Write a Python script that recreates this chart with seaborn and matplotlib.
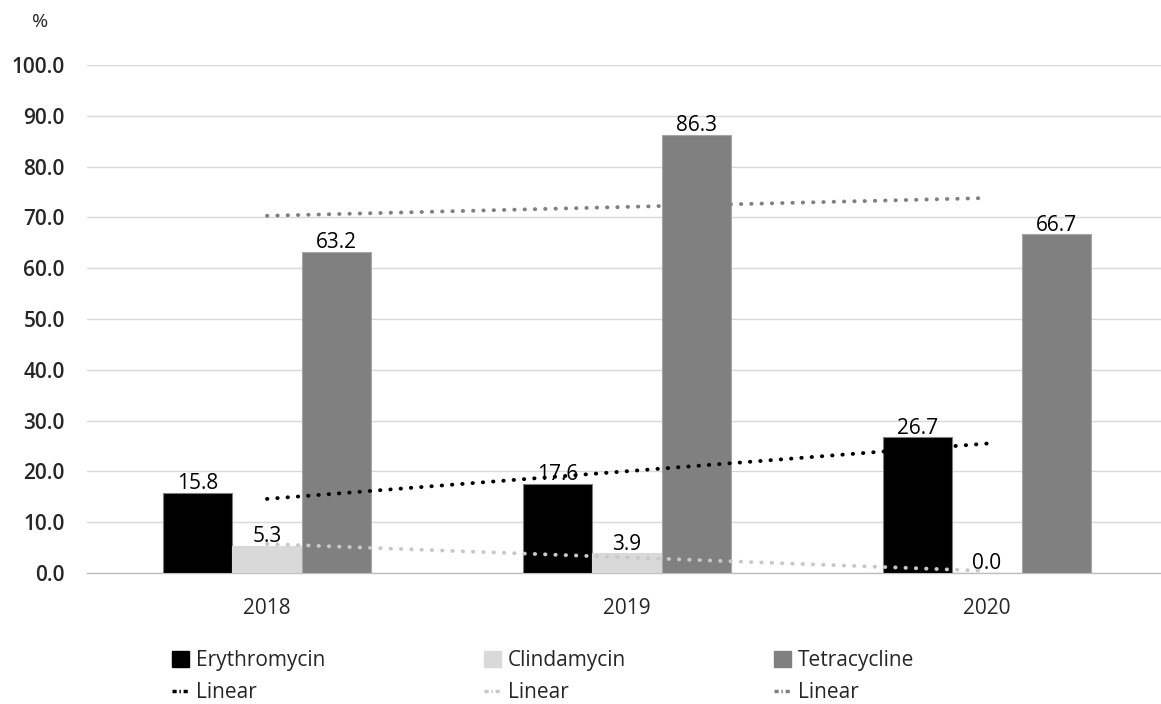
import numpy as np
import pandas as pd
import matplotlib
matplotlib.use("Agg")
import matplotlib.pyplot as plt
from matplotlib.patches import Patch
from matplotlib.lines import Line2D
import seaborn as sns

years = ["2018", "2019", "2020"]
erythromycin = [15.8, 17.6, 26.7]
clindamycin = [5.3, 3.9, 0.0]
tetracycline = [63.2, 86.3, 66.7]
drugs = ["Erythromycin", "Clindamycin", "Tetracycline"]
yticks = [0, 10, 20, 30, 40, 50, 60, 70, 80, 90, 100]

colors = {"Erythromycin": "#000000", "Clindamycin": "#d9d9d9", "Tetracycline": "#808080"}
trend_colors = {"Erythromycin": "#000000", "Clindamycin": "#c8c8c8", "Tetracycline": "#808080"}

sns.set_theme(style="white")
plt.rcParams['font.family'] = ['Open Sans', 'DejaVu Sans']
FS = 15

df = pd.DataFrame({
    "year": years * 3,
    "drug": [d for d in drugs for _ in years],
    "value": erythromycin + clindamycin + tetracycline,
})

fig = plt.figure(figsize=(11.61, 7.04), dpi=100)
ax = fig.add_axes([87 / 1161, 131 / 704, 1 - 87 / 1161, 508 / 704])

sns.barplot(data=df, x="year", y="value", hue="drug", hue_order=drugs,
            order=years, palette=colors, width=0.578, saturation=1,
            ax=ax, legend=False, errorbar=None, zorder=2)

edge = {"Erythromycin": "#7f7f7f", "Clindamycin": "#d9d9d9", "Tetracycline": "#a6a6a6"}
for cont, d in zip(ax.containers, drugs):
    for p in cont:
        p.set_edgecolor(edge[d])
        p.set_linewidth(0.8)
    ax.bar_label(cont, fmt="%.1f", padding=-1, fontsize=FS, color="#000000")

# linear trend lines (least squares fit of each series)
xs = np.arange(len(years))
series = {"Erythromycin": erythromycin, "Clindamycin": clindamycin, "Tetracycline": tetracycline}
for d in drugs:
    m, b = np.polyfit(xs, series[d], 1)
    ax.plot(xs, m * xs + b, color=trend_colors[d], lw=2.8,
            linestyle=(0, (0.1, 2.55)), dash_capstyle="round", zorder=4)

ax.set_xlim(-0.5, (1161 - 267) / 360)
ax.set_ylim(0, 100)
ax.set_yticks(yticks)
ax.set_yticklabels([f"{v:.1f}" for v in yticks], fontsize=FS, fontweight="semibold")
ax.tick_params(axis="y", length=0, pad=16)
ax.tick_params(axis="x", length=0, pad=18, labelsize=FS)
ax.set_xlabel("")
ax.set_ylabel("")
ax.yaxis.grid(True, color="#d9d9d9", lw=1.0, zorder=0)
ax.set_axisbelow(True)
for s in ["top", "right", "left"]:
    ax.spines[s].set_visible(False)
ax.spines["bottom"].set_color("#bfbfbf")
ax.spines["bottom"].set_linewidth(1.0)
ax.spines["bottom"].set_zorder(1)

fig.text(40 / 1161, 1 - 22 / 704, "%", fontsize=FS - 1, ha="center", va="center")

# legends: one per drug, bar swatch above its trend line entry
xpos = [172, 484, 774]
for d, xp in zip(drugs, xpos):
    handles = [Patch(facecolor=colors[d], edgecolor=colors[d]),
               Line2D([0], [0], color=trend_colors[d], lw=2.5,
                      linestyle=(0, (1.2, 0.8, 0.4, 0.8)))]
    fig.legend(handles, [d, "Linear"], loc="upper left",
               bbox_to_anchor=(xp / 1161, 1 - 650 / 704), frameon=False,
               fontsize=FS, handlelength=0.8, handleheight=0.8,
               handletextpad=0.35, labelspacing=0.55, borderpad=0, borderaxespad=0)

fig.savefig("out.png", dpi=100)
